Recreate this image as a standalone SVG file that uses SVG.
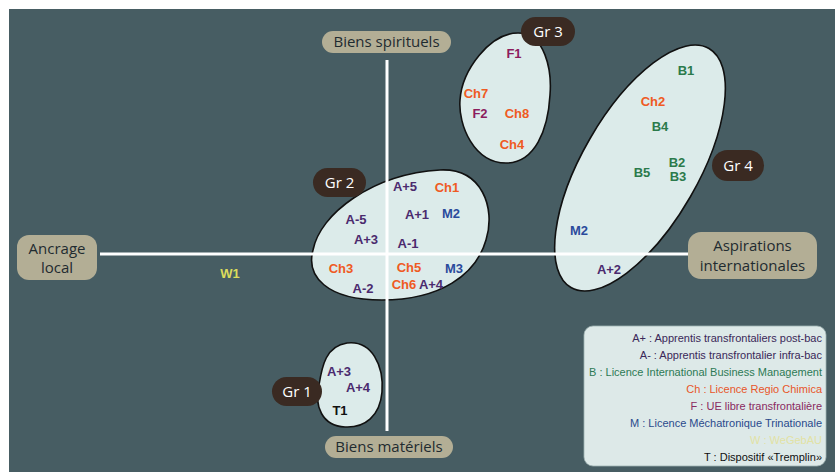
<svg xmlns="http://www.w3.org/2000/svg" width="835" height="472" viewBox="0 0 835 472">
<style>
.blob{fill:#dcebea;stroke:#111;stroke-width:1.6}
.axis{stroke:#fff;stroke-width:3;fill:none}
.lab{fill:#b3ae95}
.labt{font-family:"Open Sans","Noto Sans",sans-serif;font-size:15px;fill:#1f2b30;text-anchor:middle}
.gr{fill:#3a2a22}
.grt{font-family:"Open Sans","Noto Sans",sans-serif;font-size:15px;fill:#fff;text-anchor:middle}
.it{font-family:"Liberation Sans",Arial,sans-serif;font-size:13px;font-weight:bold;text-anchor:middle}
.A{fill:#4b2a6e}.Ch{fill:#ef5a22}.B{fill:#2b7a4b}.M{fill:#2a4a9c}.F{fill:#8c1d5e}.W{fill:#dcdc5c}.T{fill:#111}
.lg{font-family:"Liberation Sans",Arial,sans-serif;font-size:11px;text-anchor:end}
</style>
<rect x="0" y="0" width="835" height="472" fill="#fff"/>
<rect x="9" y="9" width="826" height="463" fill="#475d63"/>

<g id="gr4">
<ellipse class="blob" cx="640" cy="168" rx="138" ry="58" transform="rotate(-60 640 168)"/>
</g>
<g id="gr2blob">
<path class="blob" d="M 440 170 C 482 168 496 208 486 240 C 476 275 440 300 382 300 C 326 300 306 276 313 250 C 320 214 372 174 440 170 Z"/>
</g>
<g id="gr3blob">
<path class="blob" d="M 518 33 C 545 33 552 70 550 95 C 548 130 535 163 506 163 C 474 163 458 125 460 100 C 462 70 490 33 518 33 Z"/>
</g>
<g id="gr1blob">
<path class="blob" d="M 347 343 C 372 340 384 366 382 392 C 380 416 365 428 345 427 C 322 426 314 406 319 385 C 322 366 326 346 347 343 Z"/>
</g>

<g id="connectors">
<line class="axis" x1="100" y1="254" x2="690" y2="254"/>
<line class="axis" x1="387" y1="60" x2="387" y2="431"/>
</g>

<g id="biens-spirituels"><rect class="lab" x="322" y="31" width="129" height="22" rx="11"/><text class="labt" x="386.5" y="47">Biens spirituels</text></g>
<g id="biens-materiels"><rect class="lab" x="325" y="436" width="128" height="22" rx="11"/><text class="labt" x="389" y="452">Biens matériels</text></g>
<g id="ancrage-local"><rect class="lab" x="17" y="235" width="80" height="45" rx="12"/><text class="labt" x="57" y="254">Ancrage</text><text class="labt" x="57" y="273">local</text></g>
<g id="aspirations"><rect class="lab" x="688" y="232" width="129" height="47" rx="13"/><text class="labt" x="752.5" y="251">Aspirations</text><text class="labt" x="752.5" y="271">internationales</text></g>

<g id="badge-gr3"><rect class="gr" x="521" y="17" width="54" height="29" rx="14.5"/><text class="grt" x="548" y="37">Gr 3</text></g>
<g id="badge-gr2"><rect class="gr" x="313" y="168" width="53" height="29" rx="14.5"/><text class="grt" x="339.5" y="188">Gr 2</text></g>
<g id="badge-gr4"><rect class="gr" x="712" y="150" width="52" height="31" rx="15.5"/><text class="grt" x="738" y="171">Gr 4</text></g>
<g id="badge-gr1"><rect class="gr" x="272" y="377" width="50" height="29" rx="14.5"/><text class="grt" x="297" y="397">Gr 1</text></g>

<g id="items-gr2">
<text class="it A" x="405" y="191">A+5</text>
<text class="it Ch" x="447" y="192">Ch1</text>
<text class="it A" x="356" y="224">A-5</text>
<text class="it A" x="417" y="219">A+1</text>
<text class="it M" x="451" y="218">M2</text>
<text class="it A" x="366" y="244">A+3</text>
<text class="it A" x="408" y="248">A-1</text>
<text class="it Ch" x="341" y="273">Ch3</text>
<text class="it Ch" x="409" y="272">Ch5</text>
<text class="it M" x="454" y="273">M3</text>
<text class="it A" x="363" y="293">A-2</text>
<text class="it Ch" x="404" y="289">Ch6</text>
<text class="it A" x="431" y="289">A+4</text>
</g>
<g id="items-gr3">
<text class="it F" x="514" y="58">F1</text>
<text class="it Ch" x="476" y="98">Ch7</text>
<text class="it F" x="480" y="118">F2</text>
<text class="it Ch" x="517" y="118">Ch8</text>
<text class="it Ch" x="512" y="149">Ch4</text>
</g>
<g id="items-gr4">
<text class="it B" x="686" y="75">B1</text>
<text class="it Ch" x="653" y="106">Ch2</text>
<text class="it B" x="660" y="131">B4</text>
<text class="it B" x="677" y="167">B2</text>
<text class="it B" x="678" y="181">B3</text>
<text class="it B" x="642" y="177">B5</text>
<text class="it M" x="579" y="235">M2</text>
<text class="it A" x="609" y="274">A+2</text>
</g>
<g id="items-gr1">
<text class="it A" x="339" y="376">A+3</text>
<text class="it A" x="358" y="392">A+4</text>
<text class="it T" x="340" y="415">T1</text>
</g>
<g id="item-w1"><text class="it W" x="230" y="278">W1</text></g>

<g id="legend">
<rect x="584" y="326" width="242" height="140" rx="9" fill="#dde9e8" stroke="#9fb3b3" stroke-width="0.8"/>
<text class="lg" x="822" y="342" fill="#3a2858">A+ : Apprentis transfrontaliers post-bac</text>
<text class="lg" x="822" y="359" fill="#3a2858">A- : Apprentis transfrontalier infra-bac</text>
<text class="lg" x="822" y="376" fill="#2d7a55">B : Licence International Business Management</text>
<text class="lg" x="822" y="393" fill="#e8562a">Ch : Licence Regio Chimica</text>
<text class="lg" x="822" y="410" fill="#8a2a60">F : UE libre transfrontalière</text>
<text class="lg" x="822" y="427" fill="#2a4a8c">M : Licence Méchatronique Trinationale</text>
<text class="lg" x="822" y="444" fill="#e2e2a4">W : WeGebAU</text>
<text class="lg" x="822" y="461" fill="#111">T  : Dispositif «Tremplin»</text>
</g>
</svg>
